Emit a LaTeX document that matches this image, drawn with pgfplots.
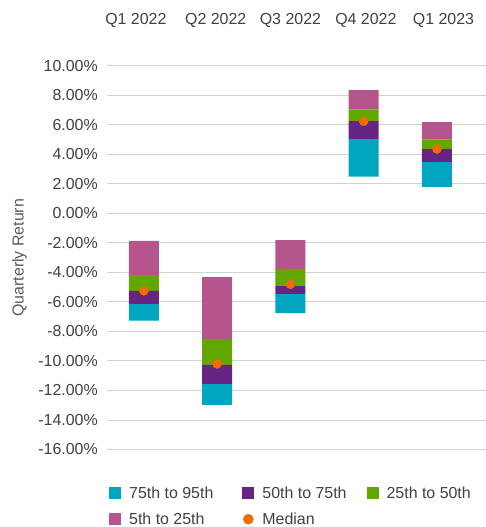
\documentclass[border=0pt]{standalone}
\usepackage{pgfplots}
\pgfplotsset{compat=1.18}
\usepackage{fontspec}
\setmainfont{Liberation Sans}
\definecolor{cteal}{RGB}{0,165,192}
\definecolor{cpurple}{RGB}{102,36,131}
\definecolor{cgreen}{RGB}{98,167,0}
\definecolor{cpink}{RGB}{181,84,141}
\definecolor{corange}{RGB}{242,107,0}
\definecolor{cgrid}{RGB}{210,210,210}
\definecolor{ctext}{RGB}{64,64,64}
\definecolor{clabel}{RGB}{89,89,89}
\newcommand{\cfont}{\fontsize{16}{19}\selectfont}
\pgfplotsset{
  sqlegend/.style={legend image code/.code={\fill[##1] (0bp,-6bp) rectangle (12bp,6bp); \path[draw=none,fill=none] (0bp,0bp) -- (15bp,0bp);}},
}
\begin{document}
\begin{tikzpicture}
\begin{axis}[
  at={(0,0)}, anchor=south west,
  scale only axis, width=378.7bp, height=383.5bp,
  ybar stacked, stack negative=on previous, bar width=30bp,
  xmin=-0.5, xmax=4.67, ymin=-16, ymax=10,
  ytick={-16,-14,...,10},
  xtick={-0.11,0.98,2.0,3.03,4.09},
  xticklabels={Q1 2022,Q2 2022,Q3 2022,Q4 2022,Q1 2023},
  xticklabel pos=upper,
  xticklabel style={font=\cfont, text=ctext, anchor=center, yshift=46bp},
  yticklabel={\pgfmathprintnumber[fixed,fixed zerofill,precision=2,assume math mode=true]{\tick}\%},
  yticklabel style={font=\cfont, text=ctext, anchor=east, xshift=-6bp},
  ylabel={Quarterly Return},
  ylabel style={font=\cfont, text=clabel, at={(axis description cs:-0.232,0.5)}, anchor=center},
  axis line style={draw=none},
  major tick length=0pt,
  ymajorgrids, grid style={cgrid, line width=1bp},
  legend columns=3,
  legend cell align=left,
  legend style={at={(0,0)}, anchor=north west, xshift=1.7bp, yshift=-35bp, draw=none, fill=none,
    inner sep=0pt, font=\cfont, text=ctext,
    nodes={inner xsep=5bp},
    /tikz/column 2/.style={column sep=24bp},
    /tikz/column 4/.style={column sep=15bp}, row sep=9bp},
]
\addplot[fill=none, draw=none, forget plot] coordinates {(0,-7.27) (1,-12.98) (2,-6.75) (3,2.50) (4,1.80)};
\addplot[fill=cteal, draw=none, sqlegend] coordinates {(0,1.13) (1,1.42) (2,1.29) (3,2.55) (4,1.69)};
\addplot[fill=cpurple, draw=none, sqlegend] coordinates {(0,0.89) (1,1.29) (2,0.54) (3,1.22) (4,0.88)};
\addplot[fill=cgreen, draw=none, sqlegend] coordinates {(0,1.08) (1,1.76) (2,1.16) (3,0.79) (4,0.66)};
\addplot[fill=cpink, draw=none, sqlegend] coordinates {(0,2.31) (1,4.20) (2,1.96) (3,1.31) (4,1.17)};
\addplot[stack plots=false, sharp plot, only marks, color=corange, mark=*, mark size=4.5bp,
  mark options={fill=corange, draw=none},
  legend image code/.code={\fill[corange] (6bp,0bp) circle (5bp); \path[draw=none,fill=none] (0bp,0bp) -- (15bp,0bp);}]
  coordinates {(0,-5.25) (1,-10.2) (2,-4.8) (3,6.25) (4,4.37)};
\legend{75th to 95th, 50th to 75th, 25th to 50th, 5th to 25th, Median}
\end{axis}
\pgfresetboundingbox
\path (-107.3bp,-77.5bp) rectangle (378.7bp,449.5bp);
\end{tikzpicture}
\end{document}
